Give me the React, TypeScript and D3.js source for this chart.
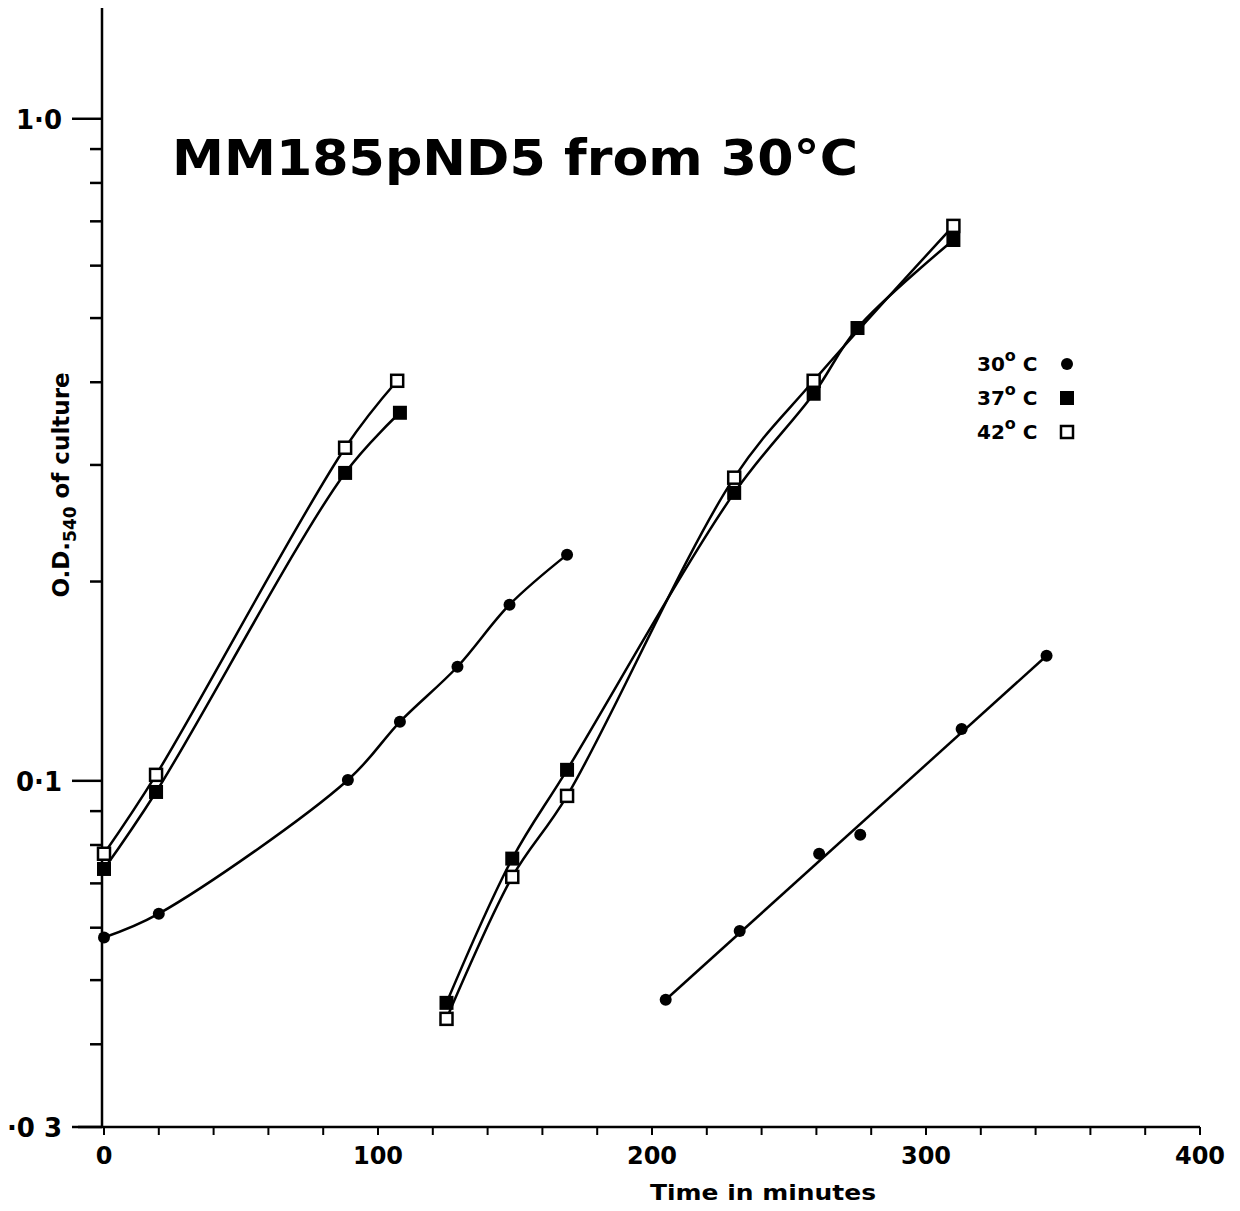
import React from "react";
import * as d3 from "d3";

const title = "MM185pND5 from 30°C";
const xLabel = "Time in minutes";
const xTicksMajor = [0, 100, 200, 300, 400];
const xTicksMinor = d3.range(0, 401, 20);
const yTicksLabeled = [1.0, 0.1, 0.03];
const yTickLabels = ["1·0", "0·1", "·0 3"];
const yTicksMinor = [0.9, 0.8, 0.7, 0.6, 0.5, 0.4, 0.3, 0.2, 0.09, 0.08, 0.07, 0.06, 0.05, 0.04];

// 30°C
const t30a = [0, 20, 89, 108, 129, 148, 169];
const od30a = [0.058, 0.063, 0.1003, 0.1228, 0.1487, 0.1845, 0.2196];
const t30b = [205, 232, 261, 276, 313, 344];
const od30b = [0.0467, 0.0593, 0.0776, 0.0829, 0.1198, 0.1545];
// 37°C
const t37a = [0, 19, 88, 108];
const od37a = [0.0736, 0.0962, 0.2918, 0.3597];
const t37b = [125, 149, 169, 230, 259, 275, 310];
const od37b = [0.0462, 0.0763, 0.1039, 0.2722, 0.3843, 0.483, 0.656];
// 42°C
const t42a = [0, 19, 88, 107];
const od42a = [0.0776, 0.1021, 0.3185, 0.402];
const t42b = [125, 149, 169, 230, 259, 310];
const od42b = [0.0437, 0.0716, 0.0949, 0.287, 0.402, 0.689];

const legendItems = [
  { num: "30", unit: "C", kind: "circle" },
  { num: "37", unit: "C", kind: "filled" },
  { num: "42", unit: "C", kind: "open" },
];

const FONT = "'DejaVu Sans', 'Liberation Sans', Arial, sans-serif";

export default function App() {
  const x = d3.scaleLinear().domain([0, 400]).range([104, 1200]);
  const y = d3.scaleLog().domain([0.03, 1.47]).range([1127, 8]);
  const smooth = d3
    .line<[number, number]>()
    .x((d) => x(d[0]))
    .y((d) => y(d[1]))
    .curve(d3.curveCatmullRom.alpha(0.5));
  const straight = d3
    .line<[number, number]>()
    .x((d) => x(d[0]))
    .y((d) => y(d[1]));

  const zip = (t: number[], v: number[]) => t.map((ti, i) => [ti, v[i]] as [number, number]);
  const series = [
    { pts: zip(t30a, od30a), kind: "circle", fit: false },
    { pts: zip(t30b, od30b), kind: "circle", fit: true },
    { pts: zip(t37a, od37a), kind: "filled", fit: false },
    { pts: zip(t42a, od42a), kind: "open", fit: false },
    { pts: zip(t37b, od37b), kind: "filled", fit: false },
    { pts: zip(t42b, od42b), kind: "open", fit: false },
  ];

  const marker = (kind: string, cx: number, cy: number, key: string) => {
    if (kind === "circle") return <circle key={key} cx={cx} cy={cy} r={6} fill="#000" />;
    if (kind === "filled")
      return <rect key={key} x={cx - 7} y={cy - 7} width={14} height={14} fill="#000" />;
    return (
      <rect key={key} x={cx - 6} y={cy - 6} width={12} height={12} fill="#fff" stroke="#000" strokeWidth={2.5} />
    );
  };

  const axisX = 102;
  const axisY = 1127;

  return (
    <svg width={1240} height={1211} style={{ position: "absolute", left: 0, top: 0, background: "#fff" }} fontFamily={FONT}>
      <rect width={1240} height={1211} fill="#fff" />
      {/* axes */}
      <line x1={axisX} x2={axisX} y1={8} y2={axisY} stroke="#000" strokeWidth={2.5} />
      <line x1={78} x2={1200} y1={axisY} y2={axisY} stroke="#000" strokeWidth={2.5} />
      {yTicksMinor.map((v) => (
        <line key={"ym" + v} x1={axisX - 12} x2={axisX} y1={y(v)} y2={y(v)} stroke="#000" strokeWidth={2.5} />
      ))}
      {yTicksLabeled.map((v, i) => (
        <g key={"yl" + v}>
          <line x1={72} x2={axisX} y1={y(v)} y2={y(v)} stroke="#000" strokeWidth={2.5} />
          <text x={62} y={y(v) + 10} textAnchor="end" fontSize={26} fontWeight="bold">
            {yTickLabels[i]}
          </text>
        </g>
      ))}
      {xTicksMinor.map((v) => (
        <line key={"xm" + v} x1={x(v)} x2={x(v)} y1={axisY} y2={axisY + 8} stroke="#000" strokeWidth={2} />
      ))}
      {xTicksMajor.map((v) => (
        <text key={"xl" + v} x={x(v)} y={1164} textAnchor="middle" fontSize={24} fontWeight="bold">
          {v}
        </text>
      ))}
      <text x={763} y={1200} textAnchor="middle" fontSize={21} fontWeight="bold" textLength={226} lengthAdjust="spacingAndGlyphs">
        {xLabel}
      </text>
      <text transform="translate(69,485) rotate(-90)" textAnchor="middle" fontSize={23} fontWeight="bold">
        O.D.<tspan fontSize={17} dy={7}>540</tspan>
        <tspan dy={-7}> of culture</tspan>
      </text>
      {/* title */}
      <text x={172} y={175} fontSize={49} fontWeight="bold" textLength={686} lengthAdjust="spacingAndGlyphs">
        {title}
      </text>
      {/* lines */}
      {series.map((s, i) => (
        <path
          key={"l" + i}
          d={(s.fit ? straight([s.pts[0], s.pts[s.pts.length - 1]]) : smooth(s.pts)) || ""}
          fill="none"
          stroke="#000"
          strokeWidth={2.5}
        />
      ))}
      {series.map((s, i) => s.pts.map((p, j) => marker(s.kind, x(p[0]), y(p[1]), `m${i}-${j}`)))}
      {/* legend */}
      {legendItems.map((it, i) => {
        const ly = 371 + i * 34;
        return (
          <g key={"lg" + i}>
            <text x={977} y={ly} fontSize={20} fontWeight="bold">
              {it.num}
              <tspan fontSize={16} dy={-10}>o</tspan>
              <tspan dy={10}> {it.unit}</tspan>
            </text>
            {marker(it.kind, 1067, ly - 7, "lgm" + i)}
          </g>
        );
      })}
    </svg>
  );
}
